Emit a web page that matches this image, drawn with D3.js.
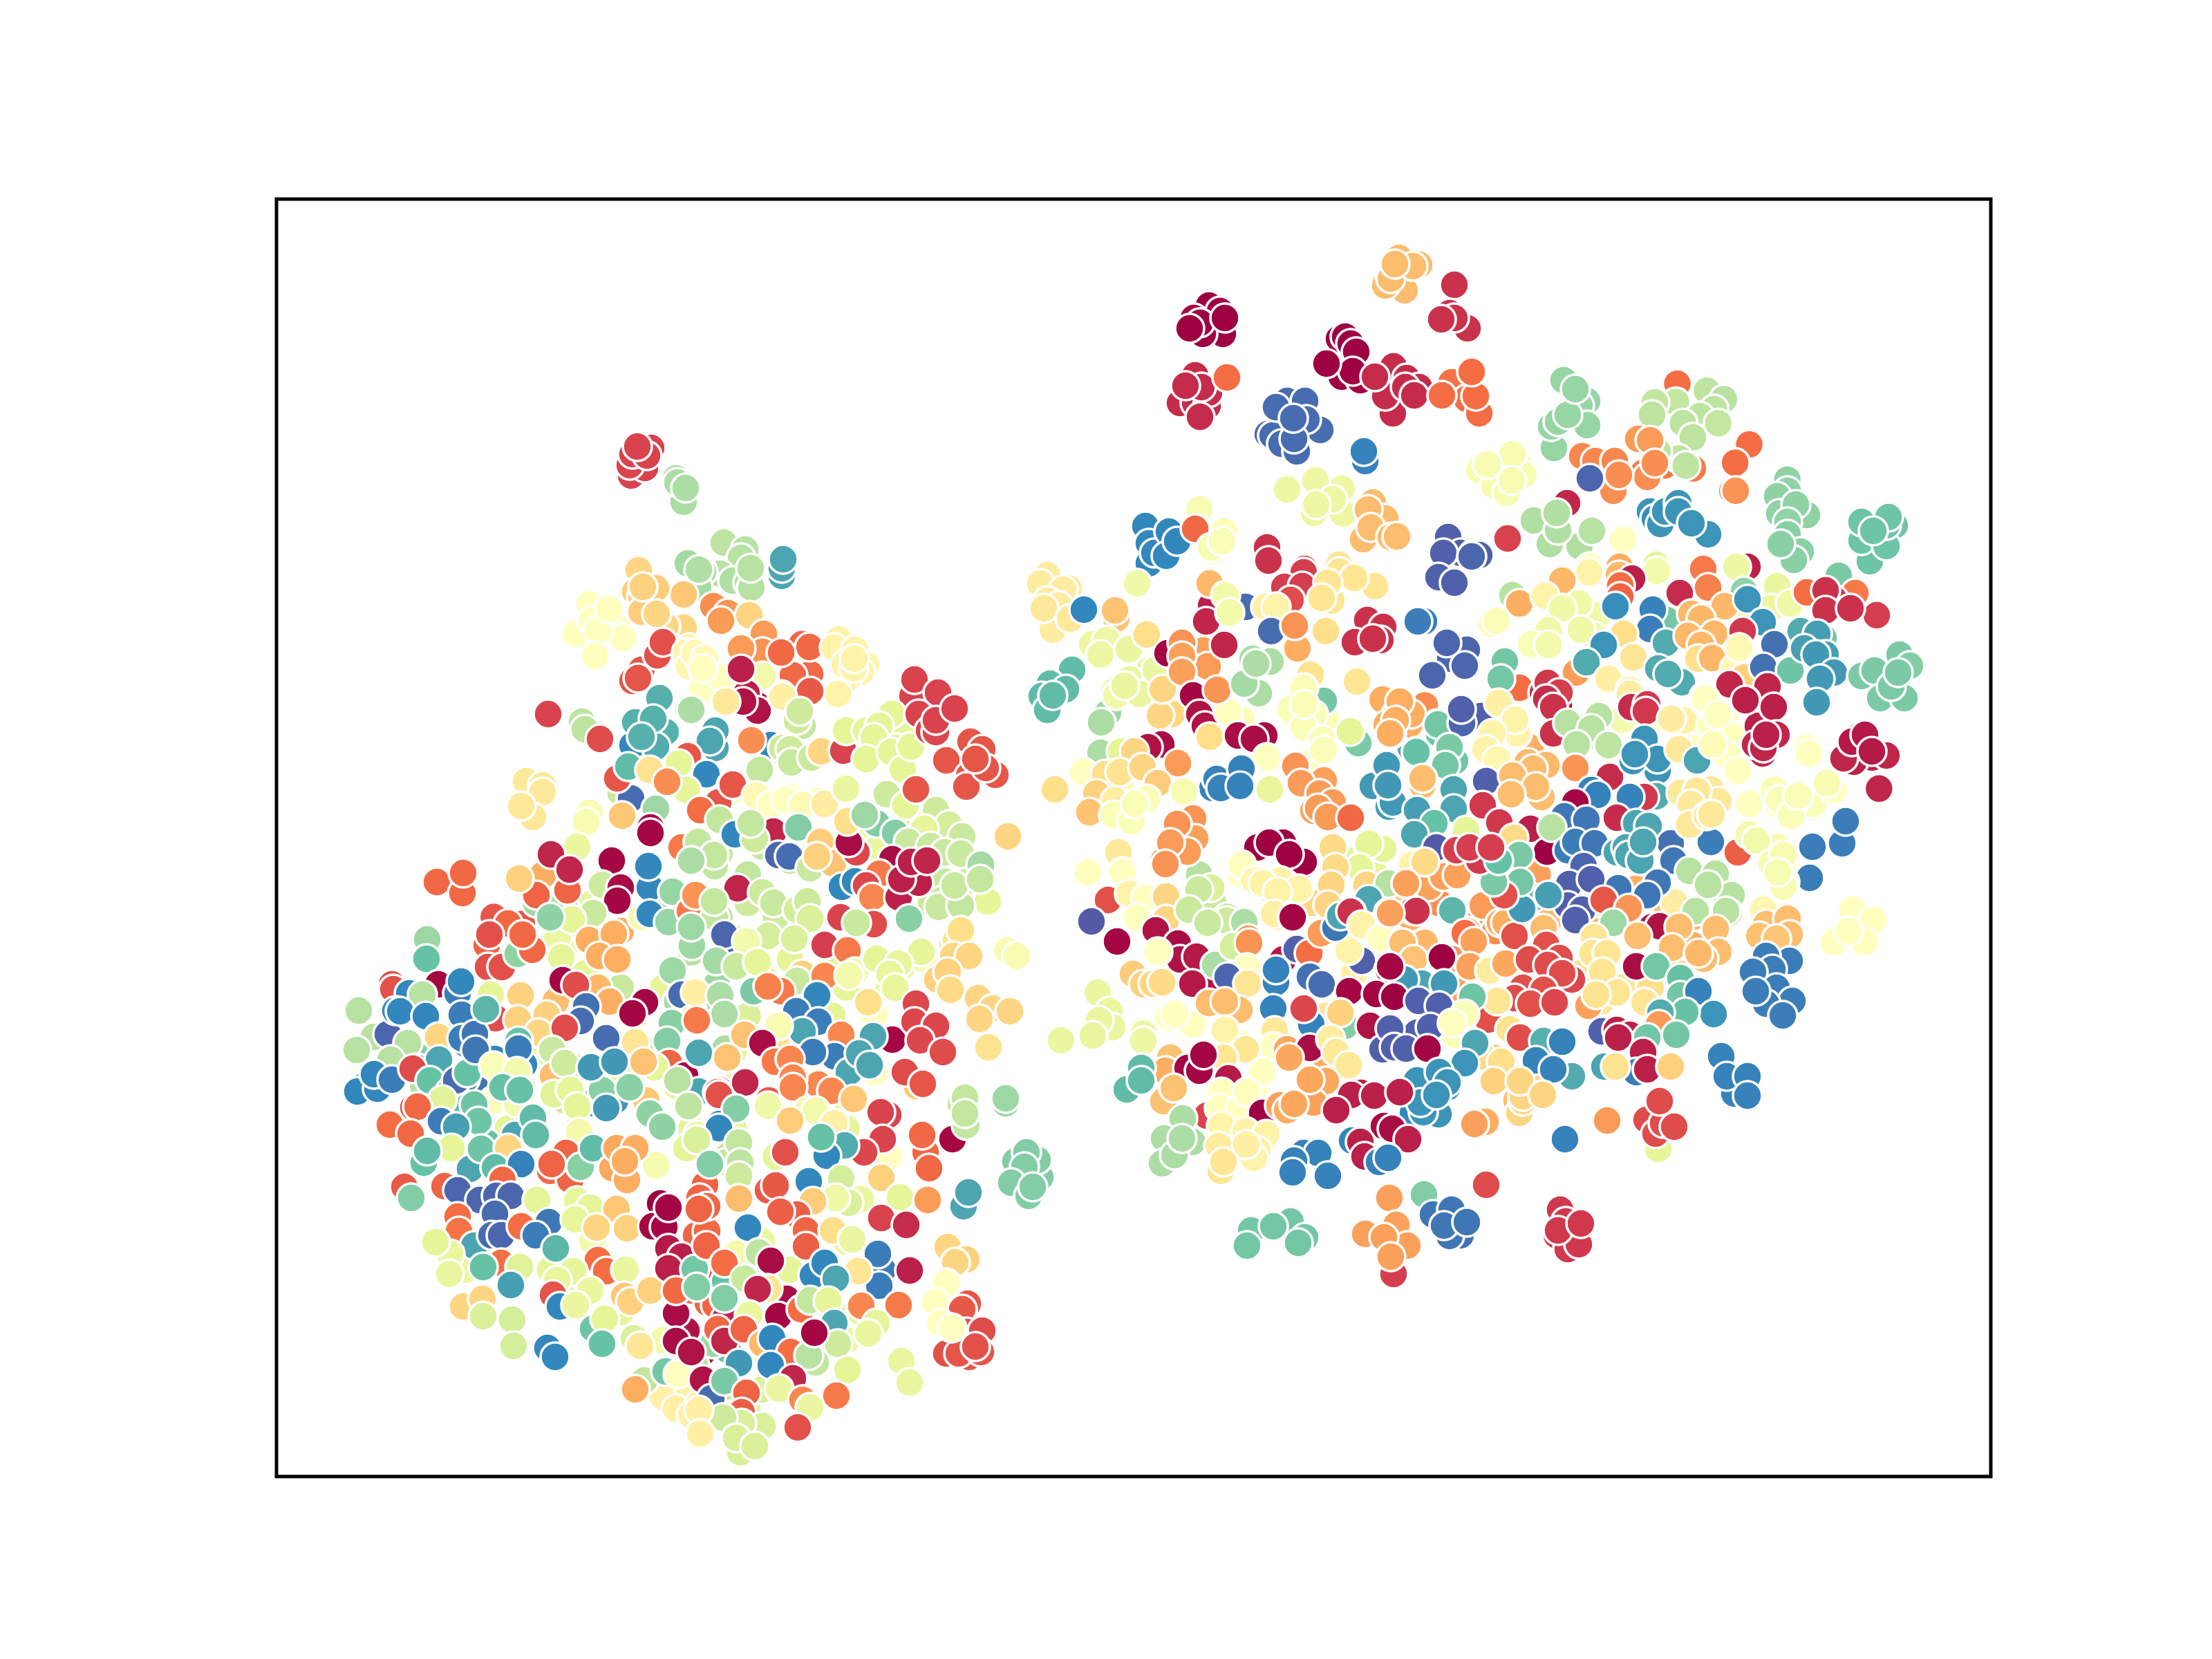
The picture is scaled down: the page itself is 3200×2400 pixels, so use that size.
<!DOCTYPE html>
<html><head><meta charset="utf-8"><script src="https://cdn.jsdelivr.net/npm/d3@7"></script>
<style>html,body{margin:0;padding:0;background:#fff}</style></head><body><div id="chart"></div>
<script>
const leftTop=[921,646,11,913,688,11,933,677,11,942,648,11,911,673,11,915,657,11,936,659,11,922,646,11,978,692,70,989,726,70,980,698,70,992,706,70,
1047,785,67,1078,795,68,1072,807,68,1042,830,68,1060,840,69,1082,843,69,1087,850,68,1086,822,68,1017,827,70,1000,815,71,995,815,71,1010,850,71,1011,824,69,1131,833,85,1131,822,85,1133,809,85,
989,860,35,924,825,38,919,856,36,928,864,36,928,885,36,949,851,36,930,849,37,989,908,38,963,906,38,950,888,38,1032,877,25,1053,887,26,1043,898,27,1084,890,38,
853,874,50,833,917,50,892,908,50,901,923,50,856,898,50,865,912,50,881,881,50,861,949,50,
915,985,15,928,969,15,923,981,15,951,948,14,959,929,14,997,937,46,993,944,46,1020,950,47,997,964,47,1043,1015,43,1045,979,44,1018,994,46,1016,967,48,
1105,917,27,1103,943,26,1072,938,27,1160,932,19,1175,1000,19,1172,975,19,1147,977,19,1171,936,19,1130,944,19,
1213,925,46,1207,937,46,1253,962,46,1245,972,46,1227,980,46,1212,1005,46,1237,940,46,1222,962,46,1235,967,46,1236,953,46,
1130,1005,46,1045,1012,43,1017,995,50,1005,945,48,1045,981,50,1020,953,48,1017,967,50,1103,978,55,1095,1020,2,1080,1003,5,1072,968,5,
1320,1007,11,1380,1023,11,1323,983,11,1357,1002,11,
996,1027,70,793,1033,11,842,1044,67,846,1055,67,868,1069,13,915,1078,90,919,1045,83,963,1059,83,949,1080,84,954,1010,83,945,1040,83,928,1066,83,1035,1082,85,1035,1057,85,1027,1072,85,
898,1147,65,913,1155,95,893,1126,15,909,1109,81,995,1094,15,1022,1120,90,940,1114,41,982,1105,60,993,1143,60,965,1131,25,
761,1130,43,789,1138,43,785,1136,43,785,1146,43,771,1182,43,754,1166,43,853,1176,53,848,1189,53,835,1225,58,900,1180,35,1058,1136,15,1039,1161,15,1013,1172,20,949,1170,72,941,1197,1];
const leftUpperEdge=[632,1276,19,669,1292,19,670,1263,19,797,1236,6,821,1288,18,824,1258,6,776,1295,18,751,1271,37,
885,1245,1,871,1280,64,898,1284,2,893,1303,1,858,1321,65,827,1330,60,735,1336,19,708,1352,14,706,1399,14,726,1399,14,749,1380,74,770,1374,19,756,1352,19,796,1327,74,812,1385,60,
852,1360,30,888,1351,30,865,1429,32,882,1449,30,867,1383,30,893,1388,30,940,1284,90,938,1253,90,941,1205,1,986,1226,22,940,1322,90,973,1290,73,967,1334,73,1034,1253,66,998,1318,22,1034,1327,66,1001,1368,72,
973,1404,72,1037,1424,72,1047,1381,95,986,1439,95,933,1450,1,919,1508,42,1001,1475,42,972,1480,75,915,1466,1,965,1506,76,968,1538,18,1008,1525,19,991,1556,1,1011,1579,85,1049,1517,70,
618,1359,72,617,1387,80,567,1424,14,569,1431,14,634,1424,1,592,1437,90,662,1437,92,667,1420,90,611,1439,68,
519,1462,68,516,1519,68,561,1496,96,572,1462,90,579,1463,90,616,1470,90,634,1500,38,590,1509,68,565,1533,68,604,1545,84,635,1533,85,
527,1571,90,517,1579,90,546,1575,90,541,1554,90,567,1562,92,597,1546,13,598,1602,13,622,1563,80,
710,1439,60,717,1473,13,753,1440,37,804,1448,33,791,1468,37,749,1475,37,779,1494,38,750,1506,80,668,1468,92,668,1502,92,687,1496,93,703,1460,82,695,1533,14,716,1532,90,758,1540,90,750,1571,92,688,1573,93,673,1561,93,651,1579,80,
814,1418,1,833,1425,13,848,1456,94,840,1477,95,817,1487,13,877,1502,95,799,1519,65,831,1544,64,861,1544,20,800,1556,33,817,1592,65,890,1592,87,853,1596,87,871,1577,75,714,1592,52,748,1596,55,660,1605,95,676,1602,80,919,1548,43,947,1544,60,935,1592,35];
const leftLowerEdge=[660,1563,95,676,1552,80,688,1519,93,750,1517,92,714,1542,52,748,1550,55,727,1573,80,752,1577,80,640,1591,61,604,1601,19,564,1627,20,594,1640,19,686,1598,79,692,1622,79,638,1622,92,660,1630,86,
745,1642,85,771,1617,81,775,1642,81,801,1583,61,817,1538,64,855,1544,87,889,1536,87,877,1603,87,911,1573,75,825,1577,60,835,1601,60,838,1638,55,931,1536,34,940,1611,74,958,1630,74,980,1563,68,1011,1524,85,996,1600,67,1009,1642,59,993,1661,60,949,1686,54,1041,1577,14,1041,1626,90,1053,1672,66,
653,1661,60,613,1682,80,618,1665,81,680,1691,85,696,1662,79,735,1661,38,716,1689,81,754,1684,91,825,1707,18,819,1668,18,798,1684,18,840,1688,75,858,1661,81,886,1690,29,892,1661,29,919,1661,30,907,1707,30,904,1680,30,
585,1717,16,595,1733,76,643,1716,18,662,1722,96,727,1707,19,694,1736,96,718,1730,96,739,1730,96,777,1736,60,716,1756,95,662,1760,20,664,1781,21,686,1802,85,711,1787,95,725,1787,96,754,1774,20,794,1768,93,775,1787,92,804,1806,82,
725,1827,20,752,1833,61,699,1833,80,651,1814,59,630,1797,60,650,1843,58,739,1859,86,835,1737,59,854,1747,60,832,1764,59,892,1749,35,863,1776,38,907,1777,37,955,1741,0,944,1774,1,961,1775,1,967,1747,1,
1020,1714,18,1012,1733,18,1007,1787,18,1023,1781,19,865,1823,20,877,1839,20,829,1839,60,806,1852,59,905,1837,58,800,1873,15,854,1867,58,810,1890,90,833,1888,58,
670,1890,38,698,1879,38,699,1904,62,741,1909,63,743,1947,63,792,1950,90,803,1963,90,858,1922,79,875,1908,60,871,1944,80,917,1936,62,926,1947,42,
903,1875,35,912,1883,37,941,1867,37,993,1925,3,978,1900,2,978,1940,2,967,1806,4,986,1818,5,967,1835,5,1005,1836,78,1016,1957,3,
932,1997,66,963,1984,78,919,2010,30,1005,1975,68,997,2015,45,978,2038,45,1012,2030,45,981,1988,50,
1049,1854,80,1001,1867,19,978,1867,19,1024,1885,18,1035,1888,18,1049,1908,6,1053,1953,80,1032,1944,72,1047,2007,65];
const centreUpper=[1096,1028,3,1075,1015,3,1050,1015,43,1000,1027,70,1212,1004,46,1172,1000,16,1132,1008,45,1161,1050,66,1153,1042,64,1157,1029,64,
1115,1078,90,1087,1071,25,1132,1082,64,1143,1084,64,1145,1103,65,1174,1096,65,1188,1087,38,1220,1086,11,1099,1114,66,1060,1135,15,1094,1151,48,1115,1165,50,1136,1157,50,1161,1165,48,1193,1163,44,1224,1141,58,
1041,1186,66,1063,1207,90,1119,1203,6,1092,1214,64,1086,1191,66,1155,1197,76,1010,1218,66,1033,1237,66,1000,1245,70,1126,1237,96,1142,1239,95,1187,1218,36,1172,1256,65,1205,1249,34,1182,1239,37,1239,1233,12,1228,1219,2,1226,1188,40,
1268,1191,76,1251,1179,72,1224,1057,60,1253,1057,60,1290,1033,60,1272,1050,60,1264,1067,60,1253,1098,60,1289,1088,60,1306,1113,60,1318,1080,60,
1329,1033,11,1344,1057,11,1354,1059,12,1354,1042,11,1381,1025,11,1369,1100,15,1402,1122,15,1398,1138,15,1440,1121,15,1404,1073,15,1421,1084,15,1426,1111,15,1411,1098,15,
1283,1149,64,1310,1165,60,1325,1142,15,1354,1172,64,1373,1193,63,1337,1199,60,1295,1205,76,1314,1218,65,1346,1224,65,1392,1210,65,1367,1233,65,1390,1235,65,1419,1251,71,
1218,1283,90,1237,1275,90,1291,1243,2,1272,1264,22,1253,1281,12,1262,1298,24,1300,1298,5,1329,1277,5,1304,1272,5,1318,1247,5,1341,1245,6,
1429,1304,60,1387,1291,66,1363,1302,66,1358,1312,65,1390,1310,66,1381,1281,65,1418,1272,66,1315,1329,75,1216,1327,11,1264,1337,13,1239,1335,65,
1006,1295,26,1067,1285,6,1033,1304,66,1048,1352,96,1103,1291,64,1119,1306,65,1153,1316,63,1168,1304,64,1172,1329,62,1111,1354,63,1149,1358,62,1000,1341,72,1080,1362,55,1193,1367,10,1226,1375,22,
1036,1390,71,1065,1398,65,1096,1392,60,1161,1409,37,1153,1419,65,1193,1412,24,1090,1434,77,1130,1434,22,1111,1427,23,1237,1406,55,1228,1411,55,
1268,1387,60,1333,1377,60,1300,1394,59,1287,1409,59,1295,1429,59,1256,1450,40,1383,1360,41,1390,1346,40,1379,1383,38,1402,1383,38,1356,1417,37,1371,1406,37,1375,1432,39,1457,1375,53,1471,1383,53,1458,1210,38,1526,1142,40];
const centreLower=[1006,1436,45,1042,1440,70,1048,1467,70,1008,1476,22,1077,1497,34,1182,1440,90,1152,1463,92,1184,1478,92,1161,1492,85,1126,1484,53,1217,1497,24,1291,1504,1,1263,1499,85,1103,1509,2,1207,1528,92,1176,1522,92,
1011,1523,85,1052,1530,34,1121,1536,22,1143,1532,24,1228,1551,85,1243,1524,85,1258,1541,85,1325,1452,12,1323,1478,12,1354,1484,12,1331,1505,12,1364,1522,13,1309,1551,13,1335,1568,15,
1415,1444,38,1436,1459,38,1417,1474,38,1461,1463,38,1430,1515,41,1536,1505,58,1585,1435,58,1580,1499,58,
1038,1580,14,1078,1566,6,1040,1584,14,1065,1604,76,1184,1569,24,1147,1559,24,1147,1573,24,1203,1578,24,1285,1613,11,1274,1609,11,1235,1590,35,1277,1648,11,1250,1667,12,
1168,1607,55,1180,1607,55,1111,1600,56,1143,1621,36,1207,1625,45,1222,1657,84,1196,1672,90,1188,1645,80,1136,1667,14,1040,1632,90,1008,1649,62,1050,1682,66,1027,1684,76,1069,1653,66,1071,1682,67,1069,1701,64,
1170,1709,90,1217,1705,63,1228,1740,62,1209,1733,56,1176,1738,36,1275,1704,37,1302,1732,60,1342,1736,27,1339,1667,19,1334,1642,19,1344,1690,19,1378,1648,1,1455,1596,73,1455,1589,72,1398,1628,66,1390,1598,65,1396,1588,66,1396,1611,66,
1505,1703,76,1501,1678,76,1469,1680,76,1485,1667,76,1482,1688,76,1463,1711,76,1488,1730,76,1494,1717,76,1394,1745,85,1401,1725,85,
1111,1722,16,1122,1715,16,1153,1757,17,1129,1753,17,1069,1734,33,1023,1745,18,1011,1749,18,1082,1776,90,1166,1780,18,1166,1803,17,1205,1780,40,1275,1762,11,1311,1772,7,1233,1793,58,1277,1837,92,1272,1860,92,1270,1814,92,1316,1838,5,1241,1839,42,
1176,1845,90,1193,1827,90,1209,1850,85,1065,1814,55,1098,1812,67,1022,1802,18,1048,1827,20,1115,1824,2,1077,1850,65,1008,1862,76,1048,1878,76,1138,1879,2,1111,1864,42,1096,1865,6,1126,1904,1,1084,1902,58,1159,1894,20,1172,1881,66,1198,1882,60,
1246,1889,24,1300,1888,22,1268,1914,60,1207,1914,85,1256,1929,58,1212,1944,64,1038,1923,19,1048,1940,6,1076,1923,18,1103,1944,32,1117,1936,90,1144,1956,20,1180,1971,66,1170,1961,68,1178,1928,1,1115,1975,90,1069,1972,87,1147,1994,6,1226,1982,60,
1000,1956,3,1017,1996,3,1029,2023,95,1048,1998,77,1080,2015,18,1127,2009,58,1210,2019,22,1161,2025,24,1172,2036,58,1073,2043,17,1154,2065,14,1103,2063,62,1073,2059,62,1046,2051,64,1071,2101,62,1065,2080,62,1092,2092,62,1000,2047,45,1011,2040,45,1013,2074,45,
1304,1969,58,1316,2000,58,1371,1804,38,1398,1822,37,1382,1826,38,1369,1856,50,1353,1884,50,1400,1886,15,1392,1894,16,1398,1927,14,1421,1925,13,1369,1958,14,1402,1963,15,1387,1958,15,1419,1956,15,1411,1948,14,1360,1914,50,1377,1921,50];
const rightWest=[1657,761,90,1662,786,90,1662,815,90,1670,800,90,1691,769,90,1687,804,90,1703,783,90,1729,765,19,1771,769,52,1752,792,53,1768,783,52,1645,844,56,
1515,832,44,1505,844,44,1546,851,44,1538,853,44,1515,869,44,1532,876,44,1523,911,44,1510,880,43,1548,895,43,1568,882,90,1615,895,34,1613,883,34,
1580,932,57,1601,926,57,1592,947,57,1633,939,58,1659,918,40,1551,969,81,1519,989,81,1507,1007,81,1542,997,81,1515,1027,81,1523,1006,81,1603,1031,72,1593,1045,70,1634,983,58,1615,1006,56,1649,1004,58,1627,992,58,1672,969,58,1695,1033,38,1678,1035,38,1682,997,38,
1689,945,1,1741,941,28,1747,964,27,1710,930,26,1710,949,28,1710,972,28,1726,1006,1,1735,1033,3,1743,1050,3,1777,1030,50,1750,1066,40,1752,876,5,1745,899,6,1771,933,6,1750,844,32,1802,878,95,1773,861,55,1779,886,55,1761,998,26,
1833,792,8,1835,811,8,1886,828,10,1858,849,10,1884,848,10,1989,848,42,1938,827,42,1959,836,42,1926,869,42,1921,843,42,1912,865,42,1867,868,13,1831,878,45,1846,878,46,1839,913,95,1877,938,30,1873,905,26,1918,913,40,1896,976,41,1963,986,42,
1978,897,8,2001,907,8,1997,926,8,1960,929,8,1986,924,8,2051,899,92,1812,953,70,1838,957,70,1821,1003,70,1800,989,71,1817,960,70,
1915,1014,78,1867,1026,52,1900,1033,52,1886,1052,52,1913,1070,52,1915,1085,52,1886,995,52,1887,1019,52,1965,1075,77,1953,1058,60,
2000,1012,30,2039,1048,30,2026,1014,30,2020,1033,30,2006,1048,30,2013,1062,30,2049,1087,80,1791,1064,2,1829,1064,2,1814,1069,2,1833,1096,50,1837,1142,59,
1754,1140,91,1760,1127,91,1766,1140,91,1796,1112,91,1794,1137,91,1680,1077,2,1661,1081,3,1704,1104,27,1592,1089,70,1622,1087,60,1641,1087,38,1567,1117,50,1599,1120,40,1620,1117,41,1653,1110,38,1675,1133,36,1713,1145,53,
1586,1148,37,1576,1175,34,1613,1158,44,1611,1179,52,1637,1188,52,1659,1156,52,1642,1163,52,1726,1184,26,1729,1213,28,1703,1192,26,1718,1232,27,1693,1219,27,1686,1250,26,
1874,1108,26,1915,1129,28,1882,1133,27,1909,1148,27,1928,1161,27,1900,1173,28,1907,1169,27,1921,1182,27,1954,1183,19,2009,1167,87,2005,1106,87,1986,1137,87,2009,1136,87,2014,1156,87,2050,1173,87,2045,1207,87,2058,1136,33,
1819,1226,0,1881,1255,0,1886,1247,0,1856,1219,0,1836,1219,0,1865,1236,0,1796,1251,50,1815,1274,47,1852,1274,46,1879,1286,46,1827,1278,46,1848,1290,46,1843,1322,45,1870,1328,1,
2043,1251,46,1928,1226,39,2001,1228,60,1980,1221,60,1967,1255,60,1932,1255,39,1926,1280,38,1977,1280,38,2009,1278,68,2034,1278,28,1921,1309,38,1980,1301,85,1955,1319,8,2009,1320,28,
1618,1233,43,1574,1262,50,1624,1261,50,1603,1302,14,1634,1293,46,1657,1299,50,1645,1328,50,1687,1297,38,1687,1330,38,1579,1333,98,1752,1284,62,1734,1287,65,1720,1316,65,1775,1332,64,1747,1335,65,1800,1334,70,1806,1358,26];
const rightWestLower=[1616,1362,1,1672,1346,3,1704,1365,2,1707,1388,3,1731,1384,4,1747,1423,3,1725,1423,4,1758,1396,70,1675,1377,50,1639,1409,36,1654,1424,37,1668,1423,38,1681,1421,39,1784,1369,63,1807,1364,26,1804,1400,50,1776,1413,96,1805,1423,42,
1856,1388,4,1846,1421,91,1846,1403,91,1842,1459,91,1876,1373,97,1894,1379,20,1895,1413,94,1912,1424,95,1970,1390,97,1951,1375,46,1952,1434,1,1897,1482,91,1886,1459,12,1946,1484,76,1939,1465,37,1982,1484,3,
2012,1488,97,2000,1518,97,2023,1518,97,2034,1518,97,2009,1403,1,1991,1438,1,2018,1440,1,2032,1417,87,1870,1327,1,1911,1350,27,1932,1342,93,1939,1325,85,1954,1319,8,1970,1338,46,1998,1357,50,2009,1321,28,2044,1317,8,2030,1365,33,2044,1388,34,
1588,1436,58,1605,1463,59,1609,1486,58,1590,1476,58,1581,1498,58,1535,1505,58,1654,1495,57,1654,1506,57,1691,1472,50,1725,1482,50,1700,1467,50,1749,1451,33,1793,1461,33,1772,1449,33,1772,1490,46,1844,1491,43,1842,1514,50,1802,1518,42,1862,1518,29,1770,1530,42,1895,1516,2,1925,1503,44,1933,1522,43,1951,1541,43,
1693,1530,34,1686,1549,30,1718,1545,1,1735,1549,1,1741,1526,1,1651,1545,81,1630,1576,81,1651,1563,81,1683,1593,34,1698,1574,34,1777,1560,4,1746,1614,11,1767,1580,50,1764,1603,50,1795,1603,50,1826,1551,50,1804,1580,50,1826,1610,0,
1865,1530,29,1918,1564,29,1851,1599,28,1900,1595,28,1862,1606,30,1895,1562,29,1872,1597,29,1969,1581,5,1955,1584,5,1988,1585,5,1933,1606,5,2026,1580,5,2044,1610,90,2002,1629,2,2014,1633,2,2037,1648,5,1956,1650,90,1968,1652,5,1974,1673,5,1995,1681,91,2008,1675,91,
1711,1618,70,1725,1652,70,1684,1647,70,1681,1683,70,1699,1671,70,1710,1647,70,1767,1629,46,1802,1637,46,1832,1641,46,1763,1658,44,1819,1664,45,1814,1675,46,1803,1656,45,1766,1694,42,1770,1681,42,
1886,1668,91,1907,1668,91,1921,1701,91,1872,1679,91,1870,1696,91,2060,1728,76,2010,1733,28,2020,1772,28,1975,1785,28,2036,1802,28,2002,1790,28,2016,1843,10,2012,1818,28,2073,1757,93,2100,1750,93,2113,1787,94,2097,1788,93,2089,1773,93,2122,1768,93,
2150,1714,13,2257,1750,9,2252,1787,9,2268,1807,9,2284,1800,9,2265,1767,9,2254,1780,9,2287,1770,9,1867,1767,78,1810,1780,78,1888,1790,78,1842,1774,78,1804,1802,78,1878,1798,78,
2264,1648,91,2325,1621,27,2399,1662,60,2382,1620,13,2395,1640,13,2406,1625,13,2422,1630,13,2401,1593,13,2149,1623,30,2133,1626,28,2197,1563,38,2162,1565,37,2198,1610,38,2203,1593,38,2231,1584,38,2048,1570,88,2094,1573,88,2078,1588,88,2081,1557,88,2081,1612,88,2059,1609,88];
const rightEast=[2042,1033,30,2025,1015,30,2019,1042,30,2011,1061,30,2080,1048,78,2142,1036,97,2115,1046,96,2114,1026,97,2049,1088,80,2105,1101,78,2097,1081,77,2091,1107,78,2006,1107,87,2015,1161,87,2008,1136,87,2058,1126,33,2103,1142,85,2103,1170,85,2050,1172,86,2075,1191,80,2046,1207,85,2121,1201,60,2078,1226,98,
2195,1061,46,2168,1017,45,2192,1041,46,2159,1061,46,2149,1084,46,2166,1099,47,2150,1130,97,2210,1103,32,2237,1107,32,2218,1112,33,2188,1122,33,2230,1153,33,2222,1138,33,2186,1149,33,2145,1165,9,2169,1190,9,2214,1199,5,2238,1232,0,2190,1212,39,2198,1237,77,
2237,1011,7,2247,1023,8,2247,1061,8,2268,1046,68,2313,1036,68,2302,1054,68,2281,1077,68,2327,1078,67,2279,1111,26,2329,1124,7,2358,1004,44,2360,1023,7,2383,1019,9,2381,1029,9,2398,1115,88,2362,1101,88,2379,1069,88,2398,1098,88,2365,1091,88,2436,1042,45,2418,1040,44,2429,1084,43,2455,1100,85,
2467,1011,50,2475,1050,50,2505,1065,50,2498,1092,50,2514,1115,50,2478,1077,49,2485,1034,50,2543,1050,5,2525,1013,5,2566,1023,5,2570,1063,6,2539,1077,6,2551,1082,6,2555,1063,5,
2396,1152,84,2379,1153,9,2358,1153,91,2302,1143,91,2311,1150,91,2279,1161,1,2263,1181,93,2295,1186,93,2339,1183,7,2367,1191,85,2385,1195,85,2245,1197,68,2268,1230,92,2279,1218,92,2307,1220,93,2417,1220,94,2421,1245,93,2475,1218,92,2514,1233,17,2530,1207,55,2541,1216,55,
2432,1147,43,2475,1142,43,2486,1159,43,2455,1144,43,2446,1163,43,2444,1193,43,2469,1180,43,2476,1178,43,2566,1142,52,2574,1157,52,2591,1180,52,2601,1151,52,2563,1249,53,2580,1237,53,2580,1283,53,2572,1262,53,2551,1316,47,
2423,1306,44,2444,1260,68,2482,1264,68,2505,1295,68,2471,1280,68,2501,1321,66,2453,1318,68,2497,1318,68,
2339,1233,85,2352,1226,85,2356,1237,85,2373,1245,85,2377,1218,85,2398,1277,93,2341,1285,93,2383,1295,93,2291,1253,96,2270,1279,97,2302,1272,97,2268,1310,97,2289,1316,97,2279,1331,97,2320,1302,15,2356,1314,26,2334,1335,72,2390,1341,4,2401,1340,3,2369,1354,33,2306,1356,42,
2429,1341,33,2482,1344,33,2419,1371,33,2486,1377,33,2465,1387,33,2457,1379,32,2555,1337,33,2586,1329,33,2589,1352,33,2545,1354,34,2570,1358,35,
2589,1390,92,2555,1383,92,2564,1402,92,2536,1406,92,2570,1429,92,2593,1448,92,2555,1452,92,2540,1434,92,2579,1469,92,
2304,1379,42,2325,1379,42,2318,1406,42,2298,1455,28,2339,1436,42,2309,1439,41,2379,1450,42,2367,1398,2,2396,1398,78,2431,1415,80,2431,1440,78,2457,1434,91,2479,1467,88,2438,1464,80,2402,1465,84,2400,1482,27,2425,1497,78,
2317,1492,97,2339,1490,5,2358,1497,5,2341,1501,5,2383,1501,78,2377,1522,5,2367,1551,92,2383,1547,5,2417,1543,37,2321,1543,85,2337,1543,41,2490,1528,91,2509,1582,91,2498,1557,91,2528,1557,91,2528,1585,91,
2067,1283,28,2088,1268,28,2108,1266,28,2061,1247,39,2034,1278,28,2145,1310,27,2049,1318,8,2101,1317,82,2011,1321,28,2061,1364,32,2029,1364,33,2045,1388,34,2119,1350,20,2132,1362,28,2086,1385,0,2126,1398,28,2155,1404,44,2178,1394,29,
2170,1335,29,2178,1335,30,2191,1354,14,2233,1343,33,2218,1299,80,2240,1295,86,2202,1315,87,2199,1276,78,2176,1295,14,2161,1237,77,2161,1276,77,2140,1245,9,2168,1245,80,2107,1230,10,2126,1226,10,2157,1226,10,
2237,1367,14,2212,1388,13,2256,1386,13,2239,1396,13,2274,1417,12,2260,1408,13,2203,1429,14,2233,1432,14,2191,1444,13,2214,1452,14,2249,1450,12,2153,1475,14,2184,1489,41,2199,1501,13,2166,1448,42,2130,1442,79,
2057,1423,85,2032,1417,87,2089,1423,87,2011,1398,1,2017,1442,0,2052,1448,97,2082,1455,97,2119,1467,52,2104,1497,52,2050,1494,97,2069,1486,97,2011,1488,97,2017,1515,97,2034,1517,97,2065,1517,1,
2233,1506,83,2260,1507,91,2222,1534,91,2274,1557,84,2247,1547,91,2144,1528,39,2172,1536,40,2161,1564,37,2203,1586,38,2199,1564,38,2232,1584,38,2134,1509,85,2101,1480,50,2119,1538,88,2050,1563,88,2082,1551,88,2094,1566,88,2055,1595,88,2078,1584,88,2025,1580,5];
const topIslands=[1769,483,0,1749,442,0,1765,450,0,1740,483,0,1727,460,1,1736,467,0,1721,475,0,1772,460,0,1707,583,7,1729,583,7,1747,587,7,1749,568,7,1729,543,7,1738,560,7,1715,558,7,1736,603,7,1775,546,20,
2032,420,33,2004,413,33,2012,403,33,2024,373,33,2053,383,33,2044,385,33,2018,382,33,2104,412,8,2123,475,8,2097,453,8,2104,460,8,2085,462,8,
1937,490,0,1946,487,0,1954,497,0,1962,509,0,1941,545,0,1968,550,0,1957,537,0,1919,526,0,2016,530,7,2015,598,7,2004,573,7,2035,547,7,2053,560,7,2033,560,7,2046,572,7,1989,545,7,
2100,553,21,2122,577,20,2140,598,20,2135,573,20,2086,572,20,2129,538,20,
1834,628,95,1841,630,95,1854,642,95,1876,653,95,1862,580,95,1888,580,95,1910,622,95,1890,607,95,1846,589,95,1872,635,95,1871,605,95,1975,667,91,1973,653,91,
2196,673,53,2204,687,53,2140,680,53,2162,703,53,2188,657,53,2180,713,53,2152,672,53,2187,695,53,
2296,580,73,2262,550,73,2285,587,73,2248,648,73,2244,617,73,2254,610,73,2296,615,73,2268,600,73,2279,563,73,2394,582,66,2390,600,67,2370,635,27,2387,637,27,
2289,660,24,2308,667,24,2336,667,24,2383,690,25,2394,670,25,2334,710,25,2300,692,96,2342,687,25,
2267,728,6,2219,753,69,2285,790,69,2242,787,69,2254,767,69,2303,768,68,2252,742,69,2348,781,50,2181,779,11,2387,740,88,2399,757,88,2394,750,89,
1862,708,57,1941,707,57,1903,695,57,1901,742,57,1943,743,57,1928,722,57,1904,730,57,1972,780,33,1986,727,33,2004,750,33,1979,737,33,1983,763,33,2012,777,33,2021,776,33,
1735,737,53,1754,797,52,1767,783,52,1731,765,19,1707,782,90,1834,812,8,1832,793,8,1887,823,12,1937,817,42,2095,777,97,2113,800,97,2131,802,96,2140,803,97,2088,800,97,2081,835,97,2104,843,97,2129,805,96,2300,820,50,2343,820,30,2396,817,60];
const rightNorth=[2402,758,88,2409,740,88,2428,728,88,2428,740,88,2471,773,88,2447,757,88,2511,710,26,2586,710,74,2571,718,74,2574,743,74,2614,745,74,2598,730,74,2586,755,74,2586,773,75,2605,798,75,2595,810,75,2576,787,75,
2705,812,79,2693,782,79,2741,760,79,2729,790,79,2693,755,79,2729,760,79,2732,748,79,2710,768,79,2660,833,77,
2299,828,46,2342,832,32,2397,826,55,2361,837,5,2344,847,20,2344,863,18,2528,820,5,2512,820,57,2464,823,22,2471,850,23,2430,858,7,2523,855,74,2519,885,58,2571,848,58,2562,880,58,2590,873,56,
2614,857,20,2684,858,22,2653,867,8,2641,854,8,2641,883,8,2715,890,10,2677,880,8,2188,861,68,2198,873,30,2260,840,32,2235,862,46,2311,890,56,2306,920,56,2284,873,56,2260,880,56,2240,912,56,2287,911,56,2215,932,52,2240,933,55,2158,903,52,2165,898,52,2060,899,91,
2337,877,89,2411,897,78,2391,882,91,2387,910,92,2349,917,40,2320,933,88,2363,951,42,2280,973,27,2295,958,84,2410,930,84,2399,967,84,2433,987,84,2413,975,84,
2495,877,32,2447,888,32,2461,895,32,2442,920,32,2480,917,32,2461,933,32,2457,953,40,2477,952,32,2528,867,88,2550,900,88,2521,913,9,2509,967,48,2516,937,48,2523,980,37,2567,932,94,2551,965,94,
2590,970,79,2638,923,78,2605,913,84,2629,917,86,2610,938,86,2641,947,86,2627,947,87,2653,973,87,2633,982,87,2628,1016,87,
2748,947,77,2693,978,77,2712,970,77,2763,963,76,2720,1010,77,2755,1010,77,2736,993,77,2746,973,77,
2198,995,20,2177,957,78,2171,982,78,2098,953,96,2072,977,96,2122,940,96,2093,930,96,2119,963,96,2232,1002,8,2239,988,9,2256,1002,10,2246,1023,9,2246,1062,9,
2114,1028,97,2079,1047,80,2096,1082,78,2170,1025,46,2191,1040,46,2158,1062,46,2193,1063,46,2327,982,45,2358,998,46,2380,1023,9,2312,1036,67,2320,1073,67,
2465,1008,50,2495,1040,50,2484,1028,50,2480,1077,49,2502,990,6,2557,993,6,2526,1013,6,2566,1023,6,2552,1062,6,2567,1067,6,2550,1090,6,2614,1082,50,2617,1090,50,2667,1097,6,2679,1073,4,2698,1063,4,2729,1093,6,2708,1087,4,
2622,1225,92,2665,1220,92,2670,1188,92,2618,1270,92,2571,1153,52,2602,1153,52,2643,1133,53,2571,1225,53,2582,1276,53,2653,1363,50,2680,1316,50,2710,1331,50,2698,1363,50,2674,1347,50];
const fillLeft=[520,560,50,560,565,50,580,568,50,600,560,60,620,520,58,600,520,58,640,515,60,635,530,60,555,533,65,565,505,65,620,600,58,655,575,60,670,590,62,680,600,64,690,620,63,660,640,65,670,625,65,640,590,60,610,585,58,580,600,62,560,610,66,540,600,66,530,620,66,510,605,66,490,600,70,
545,640,64,572,640,64,550,650,64,510,650,66,530,640,64,490,655,70,470,645,72,505,680,66,490,675,68,520,665,66,545,665,62,560,680,60,540,690,60,590,680,60,620,680,58,640,685,58,630,700,58,600,700,60,655,680,55,675,670,40,670,695,38,680,680,38,
410,665,60,395,665,58,370,655,15,350,650,15,345,670,18,380,640,72,385,620,30,420,640,60,400,640,70,440,660,30,430,670,30,455,650,55,415,690,60,440,700,65,450,720,60,470,700,60,480,710,70,510,710,70,530,720,62,555,725,58,590,720,60,620,720,50,600,745,50,650,770,35,620,760,50,570,745,50,550,740,40,520,745,60,
470,740,65,480,770,60,490,800,60,460,790,70,430,770,60,410,800,60,395,770,60,400,755,62,385,745,60,370,770,62,340,745,65,315,735,68,290,715,68,265,735,68,300,750,76,330,770,78,360,800,60,320,800,60,310,790,72,300,770,68,330,740,85,
345,810,80,375,790,82,390,830,19,410,860,58,440,830,32,470,800,60,520,800,60,550,820,60,600,800,60,630,820,50,610,850,58,590,850,58,600,880,58,560,860,50,540,880,58,500,900,15,480,900,15,440,900,60,420,880,55,390,900,60,350,890,58,330,900,58,360,870,62,400,920,60,440,930,60,470,950,55,500,920,18,530,890,58,560,900,60,590,930,60,610,930,60,600,950,58,540,960,55,510,980,58,470,990,45,490,985,45,530,1000,60,520,990,60,540,985,62,470,870,60,430,860,58,520,770,45,545,780,15,570,770,40,590,770,55,600,780,60];
const fillRight=[1000,650,30,1030,680,25,960,650,35,860,640,65,1050,650,25,1075,640,30,1130,640,30,1135,680,42,1150,700,42,1200,650,30,1190,690,38,1220,630,66,1240,570,50,1260,570,50,1275,565,50,1265,610,52,1285,570,52,1300,560,50,1318,522,5,1327,537,6,1314,540,5,1332,559,6,
1180,510,48,1195,520,48,1215,510,50,1225,530,50,1205,530,50,1105,500,5,1100,520,8,1130,510,65,1150,510,55,1140,530,50,1085,530,30,1065,510,45,1040,510,50,1010,500,25,990,510,28,1000,530,85,1020,520,80,960,520,50,940,510,52,920,510,50,930,540,50,880,510,52,850,500,3,830,480,28,850,470,28,815,475,60,790,490,58,780,465,58,795,560,52,790,575,50,810,545,40,835,590,28,825,610,28,850,620,68,870,650,66,880,620,50,900,630,45,905,650,42,930,640,38,960,610,60,970,600,60,975,620,60,990,630,35,1020,640,25,1040,660,25,1060,660,25,1000,680,30,1030,700,28,960,690,45,940,720,42,910,745,42,880,740,50,890,770,50,870,790,50,930,770,28,940,750,30,1060,750,33,1075,780,33,1090,770,38,1120,690,40,1135,710,42,1170,700,40,1200,670,30,1210,680,30,1160,630,30,1180,640,33,1135,660,30,1100,650,33,1090,620,28,
1145,340,20,1130,330,20,1165,335,22,1180,330,22,1200,332,22,1228,348,22,1240,315,20,1230,328,20,1160,311,27,1189,272,20,1175,286,67,1188,285,66,1210,277,67,1222,283,68,1215,290,67,1205,295,67,1193,300,67,1218,300,66,1200,310,67,1190,325,67,1175,320,67,1195,330,67,1267,340,74];

const fillGroups=[fillLeft,fillRight];
const pointGroups=[leftTop,leftUpperEdge,leftLowerEdge,centreUpper,centreLower,topIslands,rightNorth,rightWest,rightWestLower,rightEast];
const colourStops=["#9e0142","#d53e4f","#f46d43","#fdae61","#fee08b","#ffffbf","#e6f598","#abdda4","#66c2a5","#3288bd","#5e4fa2"];

const W=3200,H=2400;
const overviewToEmbedding=3200/1568;
const frame={left:400,right:2880,top:288,bottom:2136};
const x=d3.scaleLinear().domain([400,2880]).range([frame.left,frame.right]);
const y=d3.scaleLinear().domain([288,2136]).range([frame.top,frame.bottom]);
const colour=d3.scaleLinear().domain(d3.range(11).map(i=>i*10)).range(colourStops).interpolate(d3.interpolateRgb);

const fillRows=fillGroups.flatMap(g=>d3.range(0,g.length,3).map(i=>({x:g[i]*overviewToEmbedding,y:g[i+1]*overviewToEmbedding,v:g[i+2]})));
const mainRows=pointGroups.flatMap(g=>d3.range(0,g.length,3).map(i=>({x:g[i],y:g[i+1],v:g[i+2]})));
const rows=fillRows.concat(mainRows);
const svg=d3.select("#chart").append("svg").attr("width",W).attr("height",H).style("display","block");
svg.append("rect").attr("width",W).attr("height",H).attr("fill","#fff");
svg.append("g").selectAll("circle").data(rows).join("circle")
  .attr("cx",d=>x(d.x)).attr("cy",d=>y(d.y)).attr("r",21)
  .attr("fill",d=>colour(d.v)).attr("stroke","#fff").attr("stroke-width",3.6);
svg.append("rect").attr("x",frame.left).attr("y",frame.top).attr("width",frame.right-frame.left).attr("height",frame.bottom-frame.top)
  .attr("fill","none").attr("stroke","#000").attr("stroke-width",5);
</script></body></html>
